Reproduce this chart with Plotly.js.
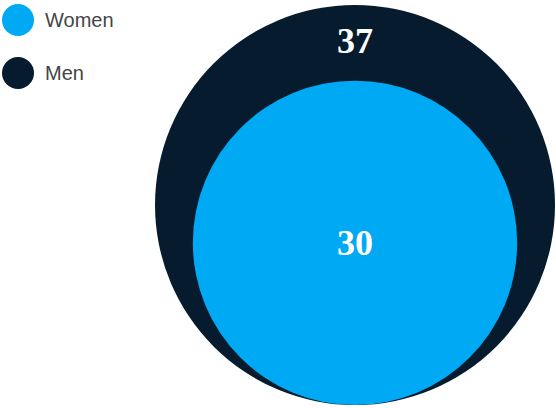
<!DOCTYPE html>
<html>
<head>
<meta charset="utf-8">
<script src="https://cdn.plot.ly/plotly-3.0.1.min.js"></script>
<style>html,body{margin:0;padding:0;background:#fff;}#chart{width:556px;height:408px;}</style>
</head>
<body>
<div id="chart"></div>
<script>
const categories = ["Women", "Men"];
const values = [30, 37];
const colors = ["#00a9f4", "#061c2e"];

const W = 556, H = 408;
const maxV = Math.max(...values);
const s = 200 / maxV;            // px per data unit
const cx = 355, bottomPx = 405;  // layout anchors in px
const xRange = [-cx / s, (W - cx) / s];
const yRange = [-(H - bottomPx) / s, bottomPx / s];

// draw larger circle first
const order = values.map((v, i) => i).sort((a, b) => values[b] - values[a]);
const shapes = [];
const annotations = [];
order.forEach(i => {
  const r = values[i];
  shapes.push({type: "circle", xref: "x", yref: "y", x0: -r, x1: r, y0: 0, y1: 2 * r,
    fillcolor: colors[i], line: {width: 0}, layer: "below"});
});
order.forEach((i, k) => {
  const r = values[i];
  const y = k === 0 ? 2 * r - 6.6 : r;
  annotations.push({xref: "x", yref: "y", x: 0, y: y, text: "<b>" + String(values[i]) + "</b>", showarrow: false,
    font: {family: "Liberation Serif, serif", size: 36, color: "#ffffff"}, xanchor: "center", yanchor: "middle"});
});
// legend
categories.forEach((c, i) => {
  const yc = 20 + i * 53;
  shapes.push({type: "circle", xref: "paper", yref: "paper",
    x0: 2 / W, x1: 34 / W, y0: 1 - (yc + 16) / H, y1: 1 - (yc - 16) / H,
    fillcolor: colors[i], line: {width: 0}});
  annotations.push({xref: "paper", yref: "paper", x: 43 / W, y: 1 - yc / H, text: c, showarrow: false,
    xanchor: "left", yanchor: "middle", font: {family: "Liberation Sans, Arial, sans-serif", size: 20, color: "#454545"}});
});

const data = [{x: [0], y: [0], mode: "markers", marker: {size: 0, opacity: 0}, hoverinfo: "skip", showlegend: false}];
const layout = {
  width: W, height: H, margin: {l: 0, r: 0, t: 0, b: 0},
  paper_bgcolor: "#ffffff", plot_bgcolor: "#ffffff", showlegend: false,
  xaxis: {range: xRange, visible: false, fixedrange: true},
  yaxis: {range: yRange, visible: false, fixedrange: true},
  shapes: shapes, annotations: annotations
};
Plotly.newPlot("chart", data, layout, {displayModeBar: false, staticPlot: true});
</script>
</body>
</html>
